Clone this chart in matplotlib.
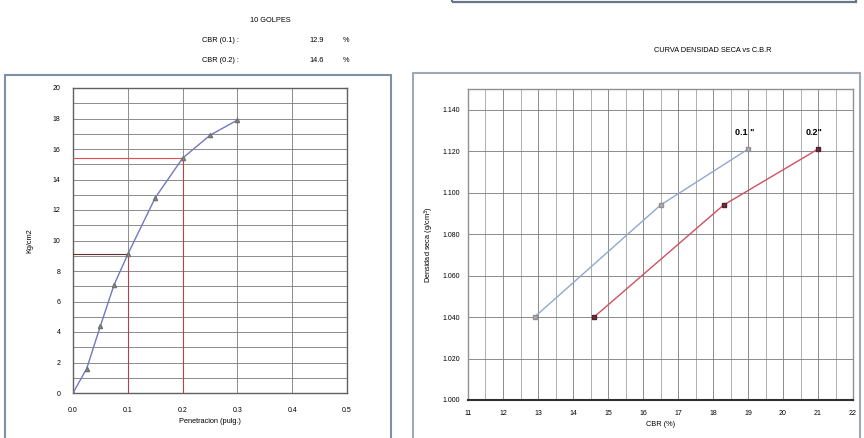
import numpy as np
import matplotlib.pyplot as plt
from matplotlib.patches import Rectangle

# penetration test, 10 blows
penetracion = [0.0, 0.025, 0.05, 0.075, 0.1, 0.15, 0.2, 0.25, 0.3]
carga = [0.0, 1.6, 4.4, 7.1, 9.1, 12.8, 15.4, 16.9, 17.9]
cbr_01 = 12.9
cbr_02 = 14.6
carga_01 = 9.1
carga_02 = 15.4

# dry density vs CBR
densidad = [1.040, 1.094, 1.121]
cbr_serie_01 = [12.9, 16.5, 19.0]
cbr_serie_02 = [14.6, 18.3, 21.0]

W, H = 864, 438
fig = plt.figure(figsize=(W / 100, H / 100), dpi=100)
plt.rcParams['font.family'] = ['Liberation Sans', 'DejaVu Sans']


def px_axes(left, top, right, bottom):
    return fig.add_axes([left / W, 1 - bottom / H, (right - left) / W, (bottom - top) / H])


# outer panels
fig.patches.append(Rectangle((5 / W, -0.05), 386 / W, 1 - 75 / H + 0.05, transform=fig.transFigure,
                             fill=False, edgecolor='#8090a8', lw=1.5))
fig.patches.append(Rectangle((413 / W, -0.05), 447 / W, 1 - 73 / H + 0.05, transform=fig.transFigure,
                             fill=False, edgecolor='#a0a8b8', lw=1.5))
fig.patches.append(Rectangle((452 / W, 1 - 2 / H), 404 / W, 0.05, transform=fig.transFigure,
                             fill=False, edgecolor='#6a7488', lw=1.6))

# header text
fs = 5.3
fig.text(270 / W, 1 - 20 / H, '10 GOLPES', fontsize=fs, ha='center', va='center')
fig.text(202 / W, 1 - 41 / H, 'CBR (0.1) :', fontsize=fs, ha='left', va='center')
fig.text(202 / W, 1 - 60 / H, 'CBR (0.2) :', fontsize=fs, ha='left', va='center')
fig.text(324 / W, 1 - 41 / H, f'{cbr_01:.1f}', fontsize=fs, ha='right', va='center')
fig.text(324 / W, 1 - 60 / H, f'{cbr_02:.1f}', fontsize=fs, ha='right', va='center')
fig.text(346 / W, 1 - 41 / H, '%', fontsize=fs, ha='center', va='center')
fig.text(346 / W, 1 - 60 / H, '%', fontsize=fs, ha='center', va='center')
fig.text(713 / W, 1 - 50 / H, 'CURVA DENSIDAD SECA vs C.B.R', fontsize=fs, ha='center', va='center')

grid_c = '#7a7a7a'

# left chart: load vs penetration
ax1 = px_axes(73, 88, 347, 393)
ax1.set_xlim(0, 0.5)
ax1.set_ylim(0, 20)
ax1.set_xticks(np.arange(0, 0.51, 0.1))
ax1.set_xticklabels([f'{v:.1f}' for v in np.arange(0, 0.51, 0.1)])
ax1.set_yticks(np.arange(0, 21, 2))
ax1.set_yticks(np.arange(1, 20, 2), minor=True)
ax1.grid(True, which='major', color=grid_c, lw=0.6)
ax1.grid(True, which='minor', axis='y', color=grid_c, lw=0.6)
ax1.tick_params(which='both', length=0, labelsize=5)
ax1.tick_params(axis='x', pad=10)
ax1.tick_params(axis='y', pad=9)
for s in ax1.spines.values():
    s.set_color('#606060')
    s.set_linewidth(1.0)

ax1.plot([0, 0.2], [carga_02, carga_02], color='#e05050', lw=0.8, zorder=3)
ax1.plot([0.2, 0.2], [0, carga_02], color='#c04040', lw=0.8, zorder=3)
ax1.plot([0, 0.1], [carga_01, carga_01], color='#603030', lw=0.8, zorder=3)
ax1.plot([0.1, 0.1], [0, carga_01], color='#b04050', lw=0.8, zorder=3)
ax1.plot(penetracion, carga, color='#7078c0', lw=1.0, marker='^', ms=3,
         mfc='#909090', mec='#707070', zorder=4)
ax1.set_xlabel('Penetracion (pulg.)', fontsize=fs, labelpad=3)
ax1.set_ylabel('Kg/cm2', fontsize=fs, labelpad=14)

# right chart: dry density vs CBR
ax2 = px_axes(468, 89, 853, 400)
ax2.set_xlim(11, 22)
ax2.set_ylim(1.0, 1.15)
ax2.set_xticks(np.arange(11, 23, 1))
ax2.set_xticks(np.arange(11.5, 22, 1), minor=True)
ax2.set_yticks(np.arange(1.0, 1.141, 0.02))
ax2.set_yticklabels([f'{v:.3f}' for v in np.arange(1.0, 1.141, 0.02)])
ax2.grid(True, which='major', color=grid_c, lw=0.6)
ax2.grid(True, which='minor', axis='x', color='#909090', lw=0.5)
ax2.tick_params(which='both', length=0, labelsize=5)
ax2.tick_params(axis='x', pad=7)
ax2.tick_params(axis='y', pad=6)
for s in ax2.spines.values():
    s.set_color('#909090')
    s.set_linewidth(1.0)
ax2.spines['bottom'].set_color('#303030')
ax2.spines['bottom'].set_linewidth(1.5)

ax2.plot(cbr_serie_01, densidad, color='#90a8d0', lw=1.0, marker='s', ms=3,
         mfc='#b0b0b0', mec='#909090', zorder=4)
ax2.plot(cbr_serie_02, densidad, color='#d05060', lw=1.0, marker='s', ms=3.5,
         mfc='#703040', mec='#502030', zorder=4)
ax2.text(cbr_serie_01[-1] - 0.1, densidad[-1] + 0.006, '0.1 "', fontsize=6.5,
         fontweight='bold', ha='center', va='bottom')
ax2.text(cbr_serie_02[-1] - 0.1, densidad[-1] + 0.006, '0.2"', fontsize=6.5,
         fontweight='bold', ha='center', va='bottom')
ax2.set_xlabel('CBR (%)', fontsize=fs, labelpad=3)
ax2.set_ylabel('Densidad seca (g/cm$^3$)', fontsize=fs, labelpad=4)

fig.savefig('out.png', dpi=100)
